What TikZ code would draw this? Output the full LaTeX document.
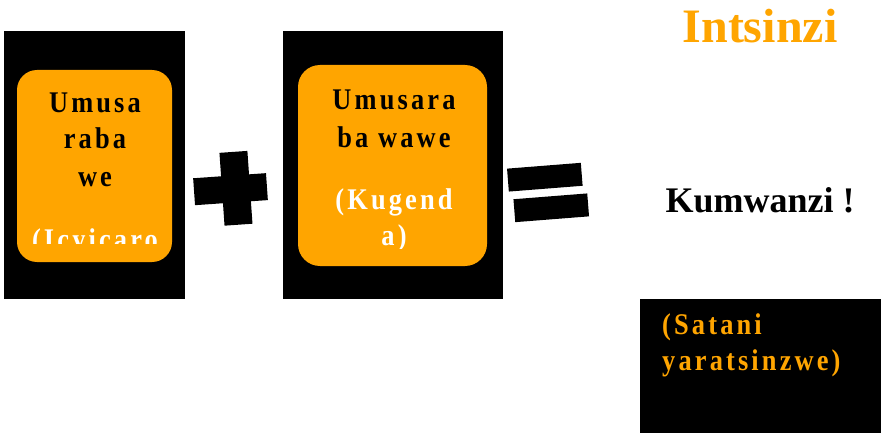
\documentclass[tikz,border=0pt]{standalone}
\usepackage{fontspec}
\setmainfont{Liberation Serif}
\newfontfamily\spacedserif[LetterSpace=10.5,FakeStretch=0.88]{Liberation Serif}
\definecolor{gold}{HTML}{FFA500}
\begin{document}
\begin{tikzpicture}[x=1pt,y=-1pt,
    cardtext/.style={anchor=base, inner sep=0pt, font=\spacedserif\bfseries\fontsize{30}{37}\selectfont},
    face/.style={fill=gold, rounded corners=20pt}]
\useasboundingbox (0,0) rectangle (887,433);

% first card
\fill (4,31) rectangle (185,299);
\fill[face] (17,70) rectangle (172,262);
\node[cardtext] (c1a) at (95,113) {Umusa};
\node[cardtext] (c1b) at (95,149) {raba};
\node[cardtext] (c1c) at (95,187) {we};
\begin{scope}
  \clip (17,70) rectangle (172,243);
  \node[cardtext, white] (c1d) at (95,250) {(Icyicaro};
\end{scope}

% plus sign
\begin{scope}[shift={(233,189)}, rotate=4]
  \fill (-39,-13.5) rectangle (34,13.5);
  \fill (-11,-37) rectangle (17,36);
\end{scope}

% second card
\fill (283,31) rectangle (503,299);
\fill[face, rounded corners=22pt] (298,65) rectangle (487,266);
\node[cardtext] (c2a) at (394,110) {Umusara};
\node[cardtext] (c2b) at (394,148) {ba wawe};
\begin{scope}
  \clip (298,65) rectangle (487,248);
  \node[cardtext, white] (c2c) at (394,210) {(Kugend};
  \node[cardtext, white] (c2d) at (394,246) {a)};
\end{scope}

% equals sign
\begin{scope}[shift={(548,192)}, rotate=4.5]
  \fill (-39,-26.5) rectangle (35,-3.5);
  \fill (-35,4.5) rectangle (39,27.5);
\end{scope}

% result
\node[anchor=base, inner sep=0pt, text=gold, font=\bfseries\fontsize{48}{52}\selectfont] (win) at (760,43) {Intsinzi};
\node[anchor=base, inner sep=0pt, font=\bfseries\fontsize{36}{40}\selectfont] (love) at (760,212) {Kumwanzi !};
\fill (640,299) rectangle (881,433);
\node[cardtext, anchor=base west, text=gold] (sat1) at (662,334) {(Satani};
\node[cardtext, anchor=base west, text=gold] (sat2) at (662,370) {yaratsinzwe)};
\end{tikzpicture}
\end{document}
